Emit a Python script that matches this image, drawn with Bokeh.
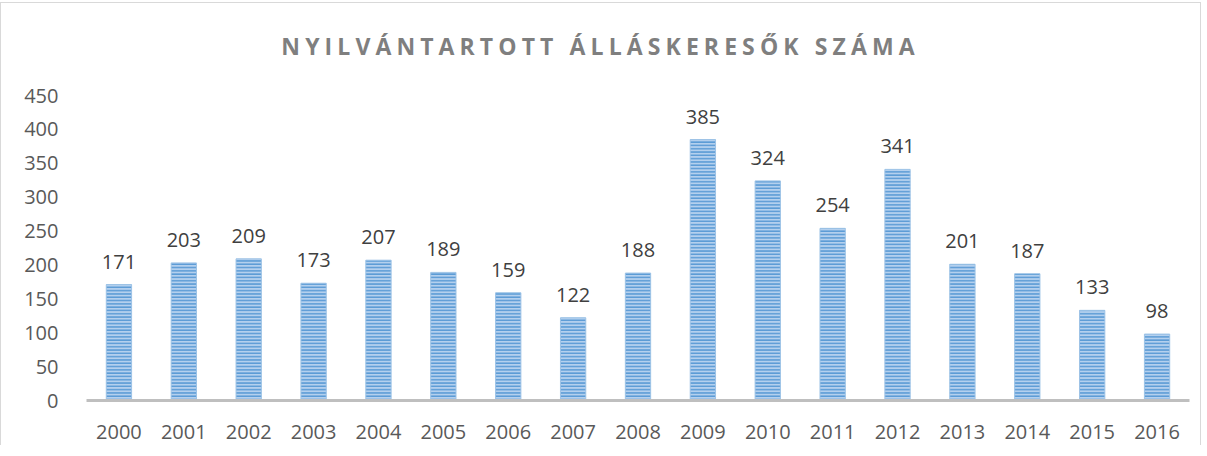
from bokeh.plotting import figure
from bokeh.models import ColumnDataSource, LabelSet, FixedTicker, Div, FactorRange
from bokeh.core.properties import value
from bokeh.layouts import column
from bokeh.embed import file_html
from bokeh.resources import INLINE

years = ["2000", "2001", "2002", "2003", "2004", "2005", "2006", "2007", "2008",
         "2009", "2010", "2011", "2012", "2013", "2014", "2015", "2016"]
values = [171, 203, 209, 173, 207, 189, 159, 122, 188, 385, 324, 254, 341, 201, 187, 133, 98]
y_ticks = [0, 50, 100, 150, 200, 250, 300, 350, 400, 450]
title_text = "NYILVÁNTARTOTT ÁLLÁSKERESŐK SZÁMA"

FONT = "Open Sans"

src = ColumnDataSource(data=dict(year=years, value=values,
                                 label=[str(v) for v in values]))

title = Div(text=title_text, width=1189, height=54,
            styles={"font-family": FONT, "font-weight": "bold", "font-size": "23px",
                    "color": "#7f7f7f", "letter-spacing": "5.1px",
                    "text-align": "center", "width": "1189px",
                    "padding-top": "22px", "box-sizing": "border-box"})

p = figure(x_range=FactorRange(*years, range_padding=0), y_range=(0, 450),
           width=1189, height=378, output_backend="svg", toolbar_location=None,
           min_border_left=85, min_border_right=1, min_border_top=28, min_border_bottom=45)

p.vbar(x="year", top="value", width=0.39, source=src,
       fill_color="#b4d0ee", line_color="#9dc3e6", line_width=1,
       hatch_pattern="horizontal_line", hatch_color="#5b9bd5",
       hatch_scale=3.3, hatch_weight=1.7)

labels = LabelSet(x="year", y="value", text="label", source=src,
                  text_align="center", text_baseline="bottom", y_offset=16,
                  text_font=value(FONT), text_font_size="20px", text_color="#404040")
p.add_layout(labels)

p.xgrid.grid_line_color = None
p.ygrid.grid_line_color = None
p.outline_line_color = None

p.yaxis.ticker = FixedTicker(ticks=y_ticks)
p.yaxis.axis_line_color = None
p.yaxis.major_tick_line_color = None
p.yaxis.minor_tick_line_color = None
p.yaxis.major_label_standoff = 22
p.yaxis.major_label_text_font = FONT
p.yaxis.major_label_text_font_size = "20px"
p.yaxis.major_label_text_color = "#595959"

p.xaxis.axis_line_color = "#bfbfbf"
p.xaxis.axis_line_width = 3
p.xaxis.major_tick_line_color = None
p.xaxis.minor_tick_line_color = None
p.xaxis.major_label_standoff = 18
p.xaxis.major_label_text_font = FONT
p.xaxis.major_label_text_font_size = "20px"
p.xaxis.major_label_text_color = "#595959"

layout = column(title, p, styles={"border-left": "1px solid #d9d9d9",
                                  "border-top": "1px solid #d9d9d9",
                                  "border-right": "1px solid #d9d9d9",
                                  "margin-top": "2px"})

open("out.html", "w").write(file_html(layout, INLINE))
